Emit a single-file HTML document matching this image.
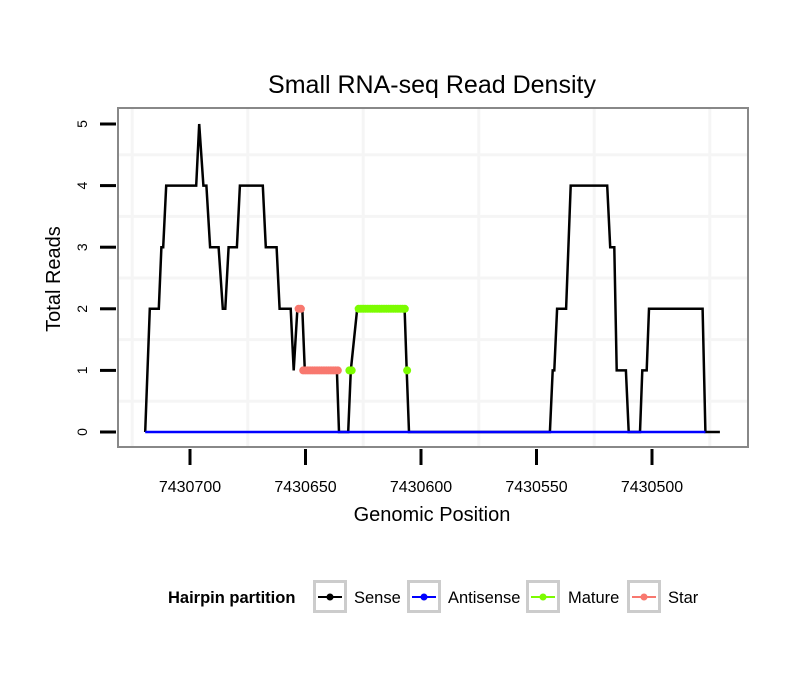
<!DOCTYPE html>
<html><head><meta charset="utf-8"><style>
body{margin:0;background:#fff;font-family:"Liberation Sans",sans-serif}
</style></head><body>
<svg id="chart" width="810" height="690" xmlns="http://www.w3.org/2000/svg" font-family="Liberation Sans, sans-serif">
<rect width="810" height="690" fill="#fff"/>
<text x="432" y="93" font-size="25" text-anchor="middle">Small RNA-seq Read Density</text>
<g id="grid"></g>
<g id="marks"></g>
<rect x="118" y="108" width="630" height="339" fill="none" stroke="#888" stroke-width="2"/>
<g id="axes"></g>
<text x="432" y="521" font-size="20" text-anchor="middle">Genomic Position</text>
<text transform="translate(60,279) rotate(-90)" font-size="20" text-anchor="middle">Total Reads</text>
<g id="legend">
<text x="168" y="603" font-size="16.5" font-weight="bold">Hairpin partition</text>
</g>
</svg>
<script>
const sensePos=[7430719.4,7430717.4,7430713.5,7430712.4,7430711.6,7430710.3,7430697.3,7430696.0,7430694.2,7430692.9,7430691.3,7430687.6,7430685.8,7430684.7,7430683.3,7430679.7,7430678.4,7430668.5,7430667.2,7430662.5,7430661.2,7430656.4,7430655.1,7430653.5,7430651.4,7430650.3,7430636.4,7430635.5,7430631.5,7430630.4,7430627.6,7430607.1,7430606.2,7430605.2,7430544.2,7430543.0,7430542.3,7430541.1,7430537.2,7430535.2,7430519.4,7430518.1,7430516.3,7430515.3,7430511.3,7430510.1,7430505.2,7430504.2,7430502.3,7430501.3,7430478.1,7430476.9,7430470.6];
const senseVal=[0,2,2,3,3,4,4,5,4,4,3,3,2,2,3,3,4,4,3,3,2,2,1,2,2,1,1,0,0,1,2,2,1,0,0,1,1,2,2,4,4,3,3,1,1,0,0,1,1,2,2,0,0];
const antiPos=[7430719.4,7430476.9];
const antiVal=[0,0];
const starPos=[7430653,7430652,7430651,7430650,7430649,7430648,7430647,7430646,7430645,7430644,7430643,7430642,7430641,7430640,7430639,7430638,7430637,7430636];
const starVal=[2,2,1,1,1,1,1,1,1,1,1,1,1,1,1,1,1,1];
const maturePos=[7430631,7430630,7430627,7430626,7430625,7430624,7430623,7430622,7430621,7430620,7430619,7430618,7430617,7430616,7430615,7430614,7430613,7430612,7430611,7430610,7430609,7430608,7430607,7430606];
const matureVal=[1,1,2,2,2,2,2,2,2,2,2,2,2,2,2,2,2,2,2,2,2,2,2,1];
const xTicks=[7430700,7430650,7430600,7430550,7430500];
const yTicks=[0,1,2,3,4,5];
const NS="http://www.w3.org/2000/svg";
function X(p){return 190+(7430700-p)*2.31;}
function Y(v){return 432-v*61.6;}
function mk(t,a,parent){const e=document.createElementNS(NS,t);for(const k in a)e.setAttribute(k,a[k]);parent.appendChild(e);return e;}
const grid=document.getElementById('grid'),marks=document.getElementById('marks'),axes=document.getElementById('axes');
for(let v=0.5;v<=5;v+=1){const l=mk('line',{x1:118,x2:748,y1:Y(v),y2:Y(v),stroke:'#f5f5f5','stroke-width':3},grid);

}
for(let p=7430725;p>=7430450;p-=50){const x=X(p);if(x<118||x>748)continue;const l=mk('line',{x1:x,x2:x,y1:108,y2:447,stroke:'#f5f5f5','stroke-width':3},grid);

}
yTicks.forEach(v=>{const l=mk('line',{x1:100,x2:116,y1:Y(v),y2:Y(v),stroke:'#000','stroke-width':3},axes);


const t=mk('text',{transform:`translate(87,${Y(v)}) rotate(-90)`,'font-size':14,'text-anchor':'middle'},axes);t.textContent=v;

});
xTicks.forEach(p=>{const l=mk('line',{x1:X(p),x2:X(p),y1:449,y2:465,stroke:'#000','stroke-width':3},axes);


const t=mk('text',{x:X(p),y:492,'font-size':16,'text-anchor':'middle'},axes);t.textContent=p;

});
function line(ps,vs,col,name){const d=ps.map((p,i)=>`${i?'L':'M'}${X(p).toFixed(1)},${Y(vs[i]).toFixed(1)}`).join('');
const e=mk('path',{d:d,fill:'none',stroke:col,'stroke-width':2.5,'stroke-linejoin':'miter'},marks);

}
function dots(ps,vs,col,name){ps.forEach((p,i)=>{const c=mk('circle',{cx:X(p),cy:Y(vs[i]),r:4,fill:col},marks);

});}
line(sensePos,senseVal,'#000','sense-line');
line(antiPos,antiVal,'#0000ff','antisense-line');
dots(starPos,starVal,'#f8786f','star-point');
dots(maturePos,matureVal,'#7cfc00','mature-point');
const leg=document.getElementById('legend');
[[313,354,'#000','Sense'],[407,448,'#0000ff','Antisense'],[526,568,'#7cfc00','Mature'],[627,668,'#f8786f','Star']].forEach(k=>{
const g=mk('g',{},leg);


mk('rect',{x:k[0]+1.5,y:581.5,width:31,height:30,fill:'#fff',stroke:'#ccc','stroke-width':3},g);
mk('line',{x1:k[0]+5,x2:k[0]+29,y1:597,y2:597,stroke:k[2],'stroke-width':2},g);
mk('circle',{cx:k[0]+17,cy:597,r:3.5,fill:k[2]},g);
const t=mk('text',{x:k[1],y:603,'font-size':16.5},g);t.textContent=k[3];});
</script>
</body></html>
